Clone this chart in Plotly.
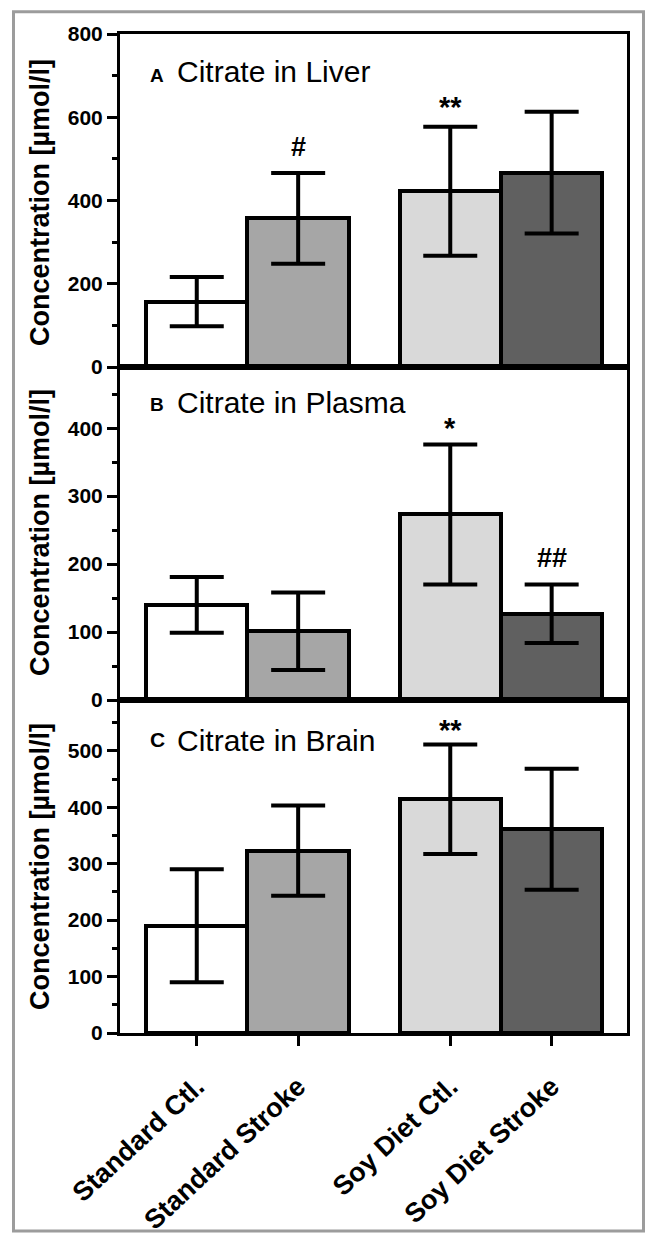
import plotly.graph_objects as go

# ---------------- data ----------------
groups = ["Standard Ctl.", "Standard Stroke", "Soy Diet Ctl.", "Soy Diet Stroke"]

liver_mean = [157, 357, 422, 467]
liver_err = [59, 109, 155, 146]

plasma_mean = [140, 101, 273, 127]
plasma_err = [41, 57, 103, 43]

brain_mean = [190, 323, 414, 361]
brain_err = [100, 80, 97, 107]

panel_letters = ["A", "B", "C"]
panel_titles = ["Citrate in Liver", "Citrate in Plasma", "Citrate in Brain"]
y_title = "Concentration [µmol/l]"

# significance marks: panel index, bar index, text, y value
sig_panel = [0, 0, 1, 1, 2]
sig_bar = [1, 2, 2, 3, 2]
sig_text = ["#", "**", "*", "##", "**"]
sig_y = [529, 631, 405, 209, 542]

# ---------------- layout helpers ----------------
W, H = 647, 1247
PL, PR = 120, 627          # plot area left/right px
PT, PB = 34, 1045          # plot area top/bottom px
x_pos = [0, 1, 2.5, 3.5]
x_range = [-0.757, 4.243]
y_ranges = [[0, 800], [0, 490], [0, 590]]
y_dtick = [200, 100, 100]
y_minor = [100, 50, 50]
fills = ["#ffffff", "#a6a6a6", "#d9d9d9", "#606060"]

FONT = "Liberation Sans, Arial, sans-serif"


def px_x(px):
    return (px - PL) / (PR - PL)


def px_y(py):
    return (PB - py) / (PB - PT)


fig = go.Figure()

means = [liver_mean, plasma_mean, brain_mean]
errs = [liver_err, plasma_err, brain_err]
domains = [[2 / 3, 1.0], [1 / 3, 2 / 3], [0.0, 1 / 3]]

for i in range(3):
    xa = "x" if i == 0 else f"x{i + 1}"
    ya = "y" if i == 0 else f"y{i + 1}"
    fig.add_trace(go.Bar(
        x=x_pos, y=means[i], width=1.0,
        marker=dict(color=fills, line=dict(color="black", width=4)),
        error_y=dict(type="data", array=errs[i], visible=True,
                     color="black", thickness=4, width=27),
        xaxis=xa, yaxis=ya, showlegend=False, hoverinfo="skip",
    ))

axis_common = dict(showline=True, linecolor="black", linewidth=3, mirror=True,
                   showgrid=False, zeroline=False)

for i in range(3):
    xkey = "xaxis" if i == 0 else f"xaxis{i + 1}"
    ykey = "yaxis" if i == 0 else f"yaxis{i + 1}"
    yname = "y" if i == 0 else f"y{i + 1}"
    xname = "x" if i == 0 else f"x{i + 1}"
    bottom = (i == 2)
    fig.layout[xkey] = dict(
        axis_common, range=x_range, anchor=yname,
        tickmode="array", tickvals=x_pos,
        ticktext=groups if bottom else [""] * 4,
        ticks="outside" if bottom else "", ticklen=10, tickwidth=3,
        tickcolor="black", tickangle=-43, showticklabels=bottom,
        ticklabelstandoff=14,
        tickfont=dict(family=FONT, size=27, color="black", weight="bold"),
    )
    fig.layout[ykey] = dict(
        axis_common, range=y_ranges[i], domain=domains[i], anchor=xname,
        dtick=y_dtick[i], tick0=0, ticks="outside", ticklen=10, tickwidth=3,
        tickcolor="black",
        tickfont=dict(family=FONT, size=21, color="black", weight="bold"),
        minor=dict(dtick=y_minor[i], tick0=0, ticks="outside", ticklen=5,
                   tickwidth=3, tickcolor="black", showgrid=False),
    )

annotations = []
letter_y = [76, 409, 748]
title_y = [72, 407, 749]
ytitle_y = [205, 539, 877]
for i in range(3):
    annotations.append(dict(
        text=panel_letters[i], xref="paper", yref="paper",
        x=px_x(148), y=px_y(letter_y[i]), xanchor="left", yanchor="middle",
        showarrow=False,
        font=dict(family=FONT, size=19 if i < 2 else 21, color="black", weight="bold"),
    ))
    annotations.append(dict(
        text=panel_titles[i], xref="paper", yref="paper",
        x=px_x(175), y=px_y(title_y[i]), xanchor="left", yanchor="middle",
        showarrow=False,
        font=dict(family=FONT, size=30, color="black"),
    ))
    annotations.append(dict(
        text=y_title, xref="paper", yref="paper", textangle=-90,
        x=px_x(40), y=px_y(ytitle_y[i]), xanchor="center", yanchor="middle",
        showarrow=False,
        font=dict(family=FONT, size=27, color="black", weight="bold"),
    ))

for p, b, t, yv in zip(sig_panel, sig_bar, sig_text, sig_y):
    xa = "x" if p == 0 else f"x{p + 1}"
    ya = "y" if p == 0 else f"y{p + 1}"
    annotations.append(dict(
        text=t, xref=xa, yref=ya, x=x_pos[b], y=yv,
        xanchor="center", yanchor="middle", showarrow=False, yshift=-3 if "*" in t else 0,
        font=dict(family=FONT, size=29 if "*" in t else 27, color="black", weight="bold"),
    ))

shapes = [dict(type="rect", xref="paper", yref="paper",
               x0=px_x(13.5), x1=px_x(643.5), y0=px_y(1245.5), y1=px_y(11.5),
               line=dict(color="#9c9c9c", width=3), fillcolor="rgba(0,0,0,0)",
               layer="below")]

fig.update_layout(
    width=W, height=H,
    margin=dict(l=PL, r=W - PR, t=PT, b=H - PB, pad=0),
    paper_bgcolor="white", plot_bgcolor="white",
    bargap=0, annotations=annotations, shapes=shapes,
    font=dict(family=FONT, color="black"),
)

fig.write_html(
    "out.html",
    config={"displayModeBar": False},
    post_script="document.body.style.margin='0';document.body.style.overflow='hidden';",
)
